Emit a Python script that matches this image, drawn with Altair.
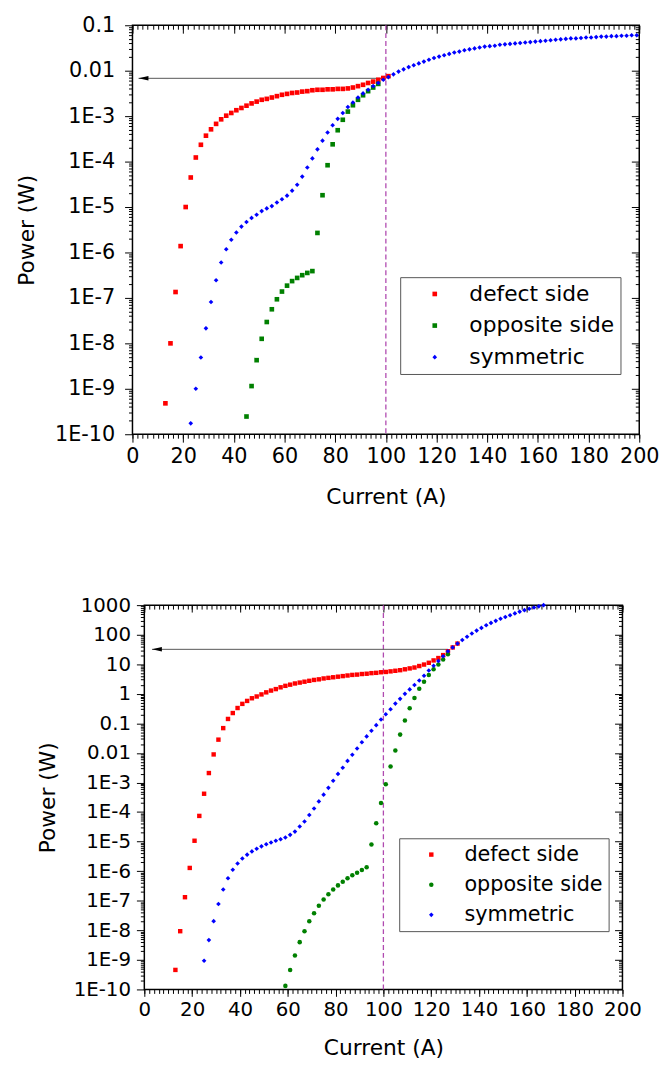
import altair as alt
import pandas as pd

FONT = "DejaVu Sans"
SERIES = ["defect side", "opposite side", "symmetric"]
COLORS = ["#ff0000", "#008000", "#0000ff"]

X_TICKS = [0, 20, 40, 60, 80, 100, 120, 140, 160, 180, 200]
X_MINOR = list(range(0, 201, 2))

# ---------------- top panel: log10(Power / W), one point every 2 A ----------------
TOP_DEFECT_X0 = 13
TOP_DEFECT_LOG = [-9.32, -8.00, -6.87, -5.86, -5.00, -4.35, -3.91, -3.63, -3.43, -3.29,
                  -3.17, -3.07, -2.99, -2.93, -2.87, -2.82, -2.77, -2.72, -2.68, -2.64,
                  -2.62, -2.59, -2.56, -2.53, -2.51, -2.49, -2.48, -2.46, -2.45, -2.43,
                  -2.42, -2.42, -2.41, -2.41, -2.40, -2.40, -2.39, -2.37, -2.34, -2.31,
                  -2.27, -2.24, -2.20, -2.16, -2.12]
TOP_OPPOSITE_X0 = 45
TOP_OPPOSITE_LOG = [-9.61, -8.94, -8.37, -7.90, -7.53, -7.25, -7.03, -6.86, -6.73, -6.63,
                    -6.56, -6.50, -6.45, -6.41, -5.57, -4.74, -4.08, -3.62, -3.31, -3.08,
                    -2.90, -2.76, -2.64, -2.54, -2.45, -2.37, -2.29]
TOP_SYM_X0 = 23
TOP_SYM_LOG = [-9.76, -9.00, -8.31, -7.67, -7.09, -6.61, -6.22, -5.93, -5.72, -5.56,
               -5.43, -5.33, -5.24, -5.17, -5.09, -5.03, -4.98, -4.90, -4.83, -4.75,
               -4.64, -4.51, -4.33, -4.13, -3.93, -3.73, -3.54, -3.36, -3.20, -3.06,
               -2.93, -2.80, -2.70, -2.59, -2.50, -2.42, -2.34, -2.27, -2.20, -2.14,
               -2.08, -2.02, -1.97, -1.92, -1.88, -1.84, -1.80, -1.76, -1.72, -1.69,
               -1.66, -1.63, -1.60, -1.58, -1.55, -1.53, -1.51, -1.49, -1.47, -1.46,
               -1.45, -1.43, -1.42, -1.41, -1.40, -1.39, -1.38, -1.37, -1.36, -1.35,
               -1.34, -1.33, -1.32, -1.31, -1.30, -1.29, -1.29, -1.28, -1.27, -1.27,
               -1.26, -1.25, -1.25, -1.24, -1.24, -1.23, -1.23, -1.22, -1.22]
TOP_Y_TICKS = [1e-10, 1e-9, 1e-8, 1e-7, 1e-6, 1e-5, 1e-4, 1e-3, 0.01, 0.1]
TOP_ARROW = {"x_start": 100, "x_end": 2.4, "y": 0.0068}

# ---------------- bottom panel ----------------
BOT_DEFECT_X0 = 13
BOT_DEFECT_LOG = [-9.34, -8.03, -6.88, -5.89, -4.97, -4.13, -3.38, -2.68, -2.05, -1.55,
                  -1.16, -0.85, -0.65, -0.48, -0.34, -0.24, -0.15, -0.09, -0.02, 0.05,
                  0.11, 0.16, 0.22, 0.27, 0.31, 0.35, 0.38, 0.41, 0.44, 0.47,
                  0.49, 0.52, 0.54, 0.56, 0.58, 0.60, 0.62, 0.64, 0.65, 0.67,
                  0.68, 0.70, 0.71, 0.73, 0.74, 0.76, 0.78, 0.80, 0.83, 0.86,
                  0.89, 0.94, 0.99, 1.05, 1.13, 1.21, 1.31, 1.44, 1.57, 1.70]
BOT_OPPOSITE_X0 = 59
BOT_OPPOSITE_LOG = [-9.88, -9.34, -8.85, -8.40, -8.03, -7.69, -7.42, -7.17, -6.96, -6.78,
                    -6.62, -6.48, -6.36, -6.24, -6.14, -6.05, -5.96, -5.87, -5.10, -4.38,
                    -3.69, -3.06, -2.46, -1.92, -1.38, -0.90, -0.49, -0.14, 0.17, 0.41,
                    0.64, 0.83, 0.99, 1.16, 1.34]
BOT_SYM_X0 = 25
BOT_SYM_LOG = [-9.03, -8.33, -7.69, -7.11, -6.62, -6.24, -5.95, -5.74, -5.57, -5.44,
               -5.33, -5.24, -5.16, -5.09, -5.03, -4.97, -4.92, -4.86, -4.77, -4.66,
               -4.49, -4.32, -4.10, -3.88, -3.64, -3.41, -3.18, -2.94, -2.71, -2.50,
               -2.27, -2.06, -1.85, -1.64, -1.44, -1.25, -1.06, -0.87, -0.69, -0.52,
               -0.33, -0.17, 0.00, 0.15, 0.30, 0.45, 0.61, 0.79, 0.95, 1.11,
               1.27, 1.44, 1.57, 1.70, 1.82, 1.93, 2.04, 2.14, 2.23, 2.32,
               2.40, 2.47, 2.54, 2.60, 2.66, 2.72, 2.78, 2.83, 2.88, 2.92,
               2.96, 3.00]
BOT_Y_TICKS = [1e-10, 1e-9, 1e-8, 1e-7, 1e-6, 1e-5, 1e-4, 1e-3, 0.01, 0.1, 1, 10, 100, 1000]
BOT_ARROW = {"x_start": 127, "x_end": 3.2, "y": 32}

VLINE_X = 100


def make_df(parts):
    rows = []
    for name, x0, logs in parts:
        for i, v in enumerate(logs):
            rows.append({"current": x0 + 2 * i, "power": 10 ** v, "series": name})
    return pd.DataFrame(rows)


def panel(df, shapes, sizes, y_ticks, W, H, fs_lab, fs_title, fs_leg,
          y_lab_pad, y_title_pad, x_tick, x_lab_pad, x_title_pad,
          leg_x, leg_y, leg_row_pad, sym_off, lab_off, arrow):
    y_minor = [k * t for t in y_ticks[:-1] for k in range(2, 10)]
    xs = alt.Scale(domain=[0, 200], nice=False, zero=False)
    ys = alt.Scale(type="log", domain=[y_ticks[0], y_ticks[-1]], nice=False)
    common = dict(grid=False, domain=False, ticks=True, tickOpacity=1,
                  tickColor="#000000", tickWidth=1,
                  labelColor="black", titleColor="black", labelFont=FONT,
                  titleFont=FONT, labelFontSize=fs_lab, titleFontSize=fs_title,
                  titleFontWeight="normal", labelOverlap=False, labelFlush=False)
    ax_xb = alt.Axis(orient="bottom", values=X_TICKS, tickSize=x_tick, labelPadding=x_lab_pad,
                     title="Current (A)", titlePadding=x_title_pad, **common)
    ax_xb_min = alt.Axis(orient="bottom", values=X_MINOR, tickSize=4, labels=False,
                         title=None, **common)
    ax_xt = alt.Axis(orient="bottom", offset=-H, values=X_TICKS, tickSize=x_tick,
                     labels=False, title=None, **common)
    ax_xt_min = alt.Axis(orient="bottom", offset=-H, values=X_MINOR, tickSize=4,
                         labels=False, title=None, **common)
    lab = "datum.value >= 0.01 ? toString(datum.value) : '1E' + round(log(datum.value) / LN10)"
    ax_yl = alt.Axis(orient="left", values=y_ticks, tickSize=8, labelPadding=y_lab_pad,
                     labelExpr=lab, title="Power (W)", titlePadding=y_title_pad, **common)
    ax_yl_min = alt.Axis(orient="left", values=y_minor, tickSize=4, labels=False,
                         title=None, **common)
    ax_yr = alt.Axis(orient="left", offset=-W, values=y_ticks, tickSize=8,
                     labels=False, title=None, **common)
    ax_yr_min = alt.Axis(orient="left", offset=-W, values=y_minor, tickSize=4,
                         labels=False, title=None, **common)

    leg = alt.Legend(title=None, orient="none", legendX=leg_x, legendY=leg_y,
                     direction="vertical", fillColor="white", strokeColor="#555555",
                     padding=6, labelFont=FONT, labelFontSize=fs_leg,
                     labelColor="black", symbolSize=16, symbolStrokeWidth=0,
                     symbolOffset=sym_off, labelOffset=lab_off, rowPadding=leg_row_pad,
                     labelLimit=400)

    base = alt.Chart(df)
    pts = base.mark_point(filled=True, opacity=1, strokeWidth=0).encode(
        x=alt.X("current:Q", scale=xs, axis=ax_xb),
        y=alt.Y("power:Q", scale=ys, axis=ax_yl),
        color=alt.Color("series:N", scale=alt.Scale(domain=SERIES, range=COLORS), legend=leg),
        shape=alt.Shape("series:N", scale=alt.Scale(domain=SERIES, range=shapes), legend=leg),
        size=alt.Size("series:N", scale=alt.Scale(domain=SERIES, range=sizes), legend=None),
    )
    l2 = base.mark_point(opacity=0).encode(
        x=alt.X("current:Q", scale=xs, axis=ax_xb_min),
        y=alt.Y("power:Q", scale=ys, axis=ax_yl_min))
    l3 = base.mark_point(opacity=0).encode(
        x=alt.X("current:Q", scale=xs, axis=ax_xt),
        y=alt.Y("power:Q", scale=ys, axis=ax_yr))
    l4 = base.mark_point(opacity=0).encode(
        x=alt.X("current:Q", scale=xs, axis=ax_xt_min),
        y=alt.Y("power:Q", scale=ys, axis=ax_yr_min))

    vdf = pd.DataFrame({"x": [VLINE_X]})
    vline = alt.Chart(vdf).mark_rule(color="#b04ab0", strokeDash=[5, 3], strokeWidth=1.3).encode(
        x=alt.X("x:Q", scale=xs, axis=None))

    adf = pd.DataFrame({"x1": [arrow["x_start"]], "x2": [arrow["x_end"]], "y": [arrow["y"]]})
    aline = alt.Chart(adf).mark_rule(color="#555555", strokeWidth=1).encode(
        x=alt.X("x1:Q", scale=xs, axis=None), x2="x2:Q",
        y=alt.Y("y:Q", scale=ys, axis=None))
    ahead = alt.Chart(adf).mark_point(shape="M -1 0 L 1 -0.45 L 1 0.45 Z", filled=True,
                                      size=100, color="black", opacity=1, strokeWidth=0,
                                      xOffset=5).encode(
        x=alt.X("x2:Q", scale=xs, axis=None),
        y=alt.Y("y:Q", scale=ys, axis=None))

    return alt.layer(vline, aline, ahead, pts, l2, l3, l4).resolve_axis(
        x="independent", y="independent").properties(
        width=W, height=H, view=alt.ViewBackground(stroke="black", strokeWidth=1.5,
                                                   strokeOpacity=1))


def with_spacer(ch, w):
    sp = alt.Chart(pd.DataFrame({"a": [0]})).mark_point(opacity=0).properties(
        width=w, height=10, view=alt.ViewBackground(strokeOpacity=0))
    return alt.hconcat(sp, ch, spacing=0).resolve_scale(
        color="independent", shape="independent", size="independent"
    ).resolve_legend(color="independent", shape="independent", size="independent")


top_df = make_df([("defect side", TOP_DEFECT_X0, TOP_DEFECT_LOG),
                  ("opposite side", TOP_OPPOSITE_X0, TOP_OPPOSITE_LOG),
                  ("symmetric", TOP_SYM_X0, TOP_SYM_LOG)])
bot_df = make_df([("defect side", BOT_DEFECT_X0, BOT_DEFECT_LOG),
                  ("opposite side", BOT_OPPOSITE_X0, BOT_OPPOSITE_LOG),
                  ("symmetric", BOT_SYM_X0, BOT_SYM_LOG)])

top = panel(top_df, ["square", "square", "diamond"], [22, 22, 50], TOP_Y_TICKS,
            W=513, H=414, fs_lab=21, fs_title=22, fs_leg=22, y_lab_pad=10,
            y_title_pad=16, x_tick=8, x_lab_pad=4, x_title_pad=20,
            leg_x=271, leg_y=255, leg_row_pad=10, sym_off=18, lab_off=24,
            arrow=TOP_ARROW)
bottom = panel(bot_df, ["square", "circle", "diamond"], [20, 22, 45], BOT_Y_TICKS,
               W=484, H=389, fs_lab=20, fs_title=22, fs_leg=21, y_lab_pad=6,
               y_title_pad=14, x_tick=7, x_lab_pad=3, x_title_pad=19,
               leg_x=258, leg_y=236, leg_row_pad=8.5, sym_off=16, lab_off=23,
               arrow=BOT_ARROW)

chart = alt.concat(with_spacer(top, 1), with_spacer(bottom, 25), columns=1, spacing=87).resolve_scale(
    color="independent", shape="independent", size="independent"
).resolve_legend(color="independent", shape="independent", size="independent").configure_view(
    strokeOpacity=0
).properties(padding={"left": 0, "top": -1, "right": 0, "bottom": -3}, background="white")

chart.save("out.html", embed_options={"renderer": "svg", "actions": False})
